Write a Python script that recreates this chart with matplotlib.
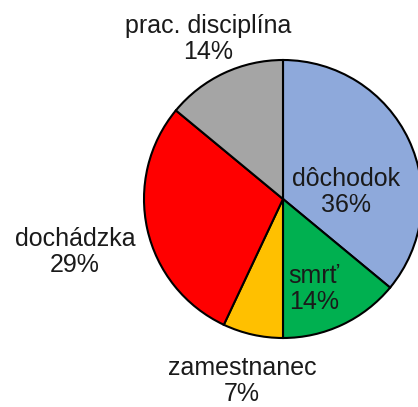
import matplotlib
matplotlib.use("Agg")
import matplotlib.pyplot as plt

categories = ["dôchodok", "smrť", "zamestnanec", "dochádzka", "prac. disciplína"]
values = [36, 14, 7, 29, 14]
colors = ["#8EA9DB", "#00B050", "#FFC000", "#FF0000", "#A5A5A5"]

# label centres in pixel coordinates (layout)
label_px = [(346, 192), (314, 289), (242, 381), (75, 252), (208, 39)]

W, H = 418, 407
cx, cy, r = 283, 199, 139

plt.rcParams['font.family'] = ['Liberation Sans', 'DejaVu Sans']
fig = plt.figure(figsize=(W / 100, H / 100), dpi=100)
ax = fig.add_axes([(cx - r) / W, (H - cy - r) / H, 2 * r / W, 2 * r / H])
ax.pie(values, colors=colors, startangle=90, counterclock=False,
       wedgeprops=dict(edgecolor="black", linewidth=1.5))
ax.set_xlim(-1, 1)
ax.set_ylim(-1, 1)
ax.set_aspect('equal')
ax.axis('off')

total = sum(values)
for cat, v, (px, py) in zip(categories, values, label_px):
    x = (px - cx) / r
    y = (cy - py) / r
    ax.text(x, y, f"{cat}\n{round(100 * v / total)}%", ha='center', va='center',
            fontsize=18, color='#1a1a1a', linespacing=1.15, clip_on=False)

fig.savefig("out.png", dpi=100)
